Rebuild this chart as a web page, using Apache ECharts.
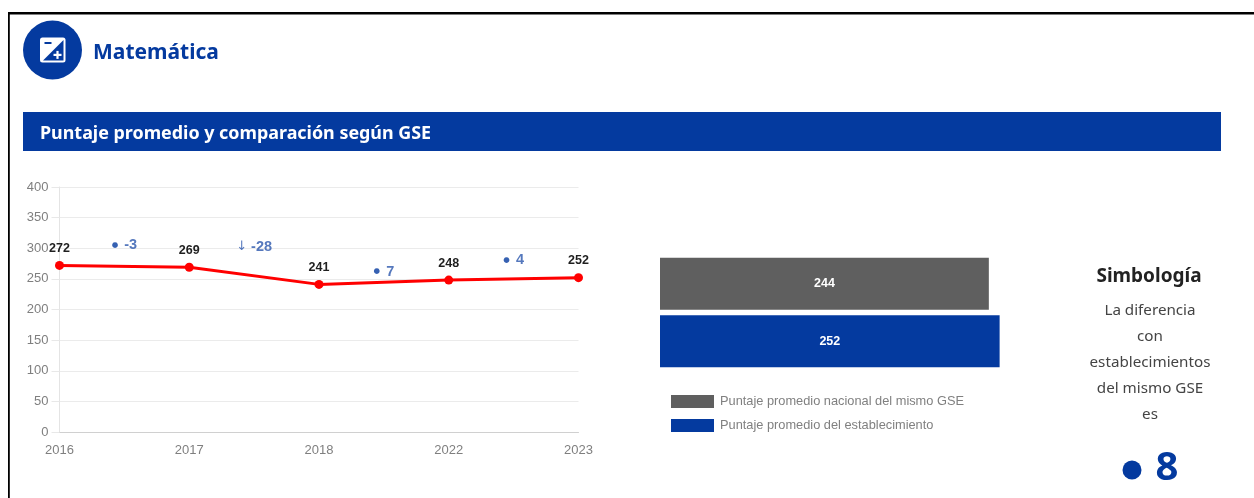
<!DOCTYPE html>
<html><head><meta charset="utf-8">
<style>html,body{margin:0;padding:0;background:#fff}#c{width:1254px;height:498px}</style>
<script src="https://cdn.jsdelivr.net/npm/echarts@6/dist/echarts.min.js"></script>
</head><body><div id="c"></div>
<script>
const years = ['2016','2017','2018','2022','2023'];
const scores = [272,269,241,248,252];
const changeLabels = ['-3','-28','7','4'];
const changeMarks = ['dot','arrow','dot','dot'];
const changeX = [0.5,1.5,2.5,3.5];
const changeY = [305,302,262,281];
const barCategory = ['GSE'];
const nationalName = 'Puntaje promedio nacional del mismo GSE';
const schoolName = 'Puntaje promedio del establecimiento';
const nationalScore = [244];
const schoolScore = [252];
const BLUE = '#043a9f';
const sans = '"Liberation Sans"';
const head = '"Noto Sans"';

const chart = echarts.init(document.getElementById('c'), null, {renderer:'canvas'});
const symLines = ['La diferencia','con','establecimientos','del mismo GSE','es'];
chart.setOption({
  animation:false,
  backgroundColor:'#fff',
  textStyle:{fontFamily:sans},
  grid:[
    {left:59.5, top:187, width:519, height:245},
    {left:660, top:255, width:350.4, height:115}
  ],
  xAxis:[
    {type:'category', gridIndex:0, data:years, boundaryGap:false,
     axisLine:{lineStyle:{color:'#d0d0d0'}}, axisTick:{show:false},
     axisLabel:{color:'#7f7f7f', fontSize:13, margin:12, fontFamily:sans, hideOverlap:false, interval:0}, splitLine:{show:false}},
    {type:'value', gridIndex:0, min:0, max:4, show:false},
    {type:'value', gridIndex:1, min:0, max:260, show:false}
  ],
  yAxis:[
    {type:'value', gridIndex:0, min:0, max:400, interval:50,
     axisLine:{show:true, lineStyle:{color:'#e4e4e4'}},
     axisTick:{show:true, length:8, lineStyle:{color:'#e8e8e8'}},
     axisLabel:{color:'#7f7f7f', fontSize:13, margin:11, fontFamily:sans},
     splitLine:{lineStyle:{color:'#ebebeb'}}},
    {type:'value', gridIndex:0, min:0, max:400, show:false},
    {type:'category', gridIndex:1, data:barCategory, show:false}
  ],
  legend:{
    orient:'vertical', left:666, top:390, itemWidth:43, itemHeight:13, itemGap:11,
    data:[nationalName, schoolName], selectedMode:false, icon:'rect',
    textStyle:{color:'#808080', fontSize:12.8, fontFamily:sans, padding:[0,0,0,1]}
  },
  series:[
    {type:'line', name:'Puntaje', xAxisIndex:0, yAxisIndex:0, data:scores,
     lineStyle:{color:'#ff0000', width:3}, itemStyle:{color:'#ff0000'},
     symbol:'circle', symbolSize:9, showSymbol:true, smooth:false, z:3,
     label:{show:true, position:'top', distance:6, color:'#1f1f1f', fontSize:12.5, fontWeight:'bold', fontFamily:sans}},
    {type:'scatter', name:'Diferencia', xAxisIndex:1, yAxisIndex:1,
     data:changeX.map((x,i)=>[x,changeY[i],changeLabels[i],changeMarks[i]]),
     symbolSize:0, z:4, silent:true,
     label:{show:true, position:'inside',
       formatter:p=>(p.value[3]==='arrow'?'{m|↓}':'{d|●}')+'{v| '+p.value[2]+'}',
       rich:{
         d:{color:BLUE, fontSize:7.5, fontFamily:'"DejaVu Sans"', padding:[0,2,0,0]},
         m:{color:'#2a56ad', fontSize:13, fontFamily:'"DejaVu Sans"', padding:[0,0,0,0]},
         v:{color:'#2a56ad', fontSize:14.5, fontWeight:'bold', fontFamily:sans}
       }}},
    {type:'bar', name:nationalName, xAxisIndex:2, yAxisIndex:2, data:nationalScore, barWidth:52, barGap:'11%',
     itemStyle:{color:'#5f5f5f'},
     label:{show:true, position:'inside', color:'#fff', fontSize:12.5, fontWeight:'bold', fontFamily:sans}},
    {type:'bar', name:schoolName, xAxisIndex:2, yAxisIndex:2, data:schoolScore, barWidth:52,
     itemStyle:{color:BLUE},
     label:{show:true, position:'inside', color:'#fff', fontSize:12.5, fontWeight:'bold', fontFamily:sans}}
  ],
  graphic:[
    {type:'rect', shape:{x:8,y:12,width:1246,height:2.5}, style:{fill:'#000'}, z:10},
    {type:'rect', shape:{x:8,y:12,width:1.8,height:486}, style:{fill:'#000'}, z:10},
    {type:'circle', shape:{cx:52.5,cy:50,r:29.5}, style:{fill:BLUE}, z:10},
    {type:'rect', shape:{x:40,y:37.5,width:25.5,height:25,r:2.5}, style:{fill:'#fff'}, z:11},
    {type:'polygon', shape:{points:[[63.5,40],[63.5,60.5],[43,60.5]]}, style:{fill:BLUE}, z:12},
    {type:'rect', shape:{x:44.5,y:42,width:7,height:2}, style:{fill:BLUE}, z:13},
    {type:'rect', shape:{x:53.5,y:53.8,width:8,height:2.2}, style:{fill:'#fff'}, z:13},
    {type:'rect', shape:{x:56.4,y:50.9,width:2.2,height:8}, style:{fill:'#fff'}, z:13},
    {type:'text', x:93, y:53, style:{text:'Matemática', fill:BLUE, font:'bold 21px '+head, textVerticalAlign:'middle'}, z:10},
    {type:'rect', shape:{x:23,y:112,width:1198,height:39}, style:{fill:BLUE}, z:1},
    {type:'text', x:40, y:134, style:{text:'Puntaje promedio y comparación según GSE', fill:'#fff', font:'bold 17.9px '+head, textVerticalAlign:'middle'}, z:10},
    {type:'text', x:1149, y:277, style:{text:'Simbología', fill:'#222', font:'bold 19px '+head, textAlign:'center', textVerticalAlign:'middle'}, z:10},
    ...symLines.map((t,i)=>({type:'text', x:1150, y:311+i*26, style:{text:t, fill:'#444', font:'15.2px '+head, textAlign:'center', textVerticalAlign:'middle'}, z:10})),
    {type:'circle', shape:{cx:1132,cy:470,r:9.5}, style:{fill:BLUE}, z:10},
    {type:'text', x:1167, y:469, style:{text:'8', fill:BLUE, font:'bold 40px "Open Sans"', textAlign:'center', textVerticalAlign:'middle'}, z:10}
  ]
});
</script></body></html>
